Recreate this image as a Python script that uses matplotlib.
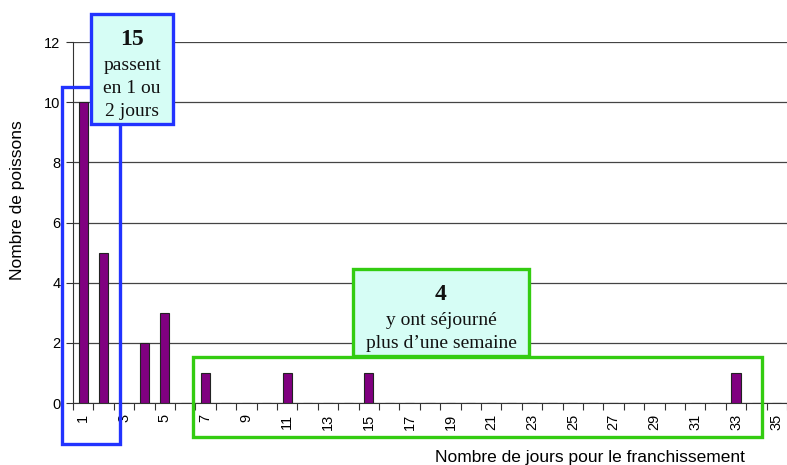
import numpy as np
import matplotlib.pyplot as plt
from matplotlib.patches import Rectangle

plt.rcParams['font.family'] = ['Liberation Sans', 'DejaVu Sans']

# Nombre de poissons par nombre de jours de franchissement
jours = list(range(1, 36))
poissons = [10, 5, 0, 2, 3, 0, 1, 0, 0, 0, 1, 0, 0, 0, 1, 0, 0, 0, 0, 0,
            0, 0, 0, 0, 0, 0, 0, 0, 0, 0, 0, 0, 1, 0, 0]
y_ticks = [0, 2, 4, 6, 8, 10, 12]
x_labels = [str(j) if j % 2 == 1 else '' for j in jours]

W, H = 787, 465
fig = plt.figure(figsize=(W / 100, H / 100), dpi=100)
ax = fig.add_axes([73 / W, 62 / H, 714 / W, 361 / H])

ax.bar(jours, poissons, width=0.45, color='#800080', edgecolor='#222222', linewidth=0.8, zorder=3)

ax.set_xlim(0.5, 35.5)
ax.set_ylim(0, 12)
ax.set_yticks(y_ticks)
ax.set_yticklabels([str(v) for v in y_ticks], fontsize=10.5)
ax.yaxis.grid(True, color='#444444', linewidth=0.9)
ax.set_axisbelow(True)

ax.set_xticks(jours)
ax.set_xticklabels(x_labels, rotation=90, fontsize=10.5)
ax.tick_params(axis='x', length=0, pad=7.5)
ax.set_xticks(np.arange(0.5, 36, 1), minor=True)
ax.tick_params(axis='x', which='minor', length=5, width=0.8, color='#333333')
ax.tick_params(axis='y', length=5, width=0.8, color='#333333', pad=4)

for s in ['top', 'right']:
    ax.spines[s].set_visible(False)
ax.spines['left'].set_color('#333333')
ax.spines['bottom'].set_color('#333333')

fig.text(18 / W, 1 - 200 / H, 'Nombre de poissons', fontsize=12.5, rotation=90,
         ha='center', va='center')
fig.text(590 / W, 1 - 457 / H, 'Nombre de jours pour le franchissement', fontsize=12.5,
         ha='center', va='center')


def px_rect(x0, y0, x1, y1, edge, fill=None, z=5):
    r = Rectangle((x0 / W, 1 - y1 / H), (x1 - x0) / W, (y1 - y0) / H,
                  transform=fig.transFigure, facecolor=fill if fill else 'none',
                  edgecolor=edge, linewidth=2.4, zorder=z)
    fig.add_artist(r)


blue = '#2233ff'
green = '#33cc11'
fill = '#d6fdf5'

px_rect(62, 87, 120, 444, blue)
px_rect(193, 357, 762, 437, green)
px_rect(91, 14, 173, 124, blue, fill, z=6)
px_rect(353, 269, 529, 356, green, fill, z=6)

serif = ['Liberation Serif', 'DejaVu Serif']


def box_text(x, y, s, size, weight='normal'):
    fig.text(x / W, 1 - y / H, s, fontsize=size, fontweight=weight, family=serif,
             ha='center', va='baseline', zorder=7, color='#111111')


box_text(132, 45, '15', 17, 'bold')
box_text(132, 70, 'passent', 14)
box_text(132, 93, 'en 1 ou', 14)
box_text(132, 116, '2 jours', 14)
box_text(441, 300, '4', 17, 'bold')
box_text(441, 325, 'y ont séjourné', 14)
box_text(441, 348, 'plus d\u2019une semaine', 14)

fig.savefig('out.png', dpi=100)
